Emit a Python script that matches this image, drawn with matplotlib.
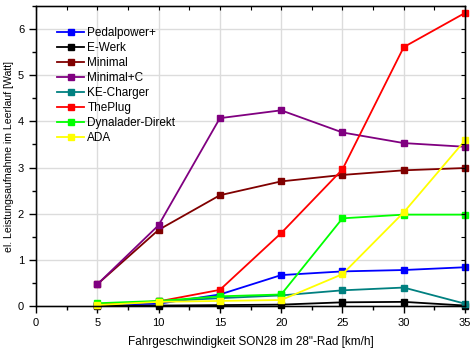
import numpy as np
import matplotlib
matplotlib.use('Agg')
import matplotlib.pyplot as plt
from matplotlib.ticker import MultipleLocator

plt.rcParams['font.family'] = ['Liberation Sans', 'DejaVu Sans']

speed = [5, 10, 15, 20, 25, 30, 35]

pedalpower = [0.03, 0.05, 0.25, 0.67, 0.75, 0.78, 0.84]
ewerk = [0.0, 0.01, 0.02, 0.03, 0.08, 0.09, 0.01]
minimal = [0.47, 1.65, 2.40, 2.70, 2.84, 2.94, 2.99]
minimal_c = [0.47, 1.75, 4.07, 4.24, 3.76, 3.53, 3.45]
ke_charger = [0.03, 0.10, 0.17, 0.23, 0.34, 0.40, 0.05]
theplug = [0.03, 0.10, 0.35, 1.58, 2.96, 5.61, 6.35]
dynalader = [0.06, 0.11, 0.21, 0.25, 1.90, 1.98, 1.98]
ada = [0.02, 0.09, 0.11, 0.13, 0.69, 2.03, 3.59]

names = ['Pedalpower+', 'E-Werk', 'Minimal', 'Minimal+C', 'KE-Charger',
         'ThePlug', 'Dynalader-Direkt', 'ADA']
series = [pedalpower, ewerk, minimal, minimal_c, ke_charger, theplug, dynalader, ada]
colors = ['#0000ff', '#000000', '#800000', '#800080', '#008080',
          '#ff0000', '#00ff00', '#ffff00']

fig = plt.figure(figsize=(4.76, 3.53), dpi=100)
ax = fig.add_axes([0.0756, 0.1331, 0.9014, 0.8499])

for name, ys, c in zip(names, series, colors):
    ax.plot(speed, ys, color=c, lw=1.3, marker='s', ms=5, label=name, clip_on=False)

ax.set_xlim(0, 35)
ax.set_ylim(0, 6.5)
ax.xaxis.set_major_locator(MultipleLocator(5))
ax.xaxis.set_minor_locator(MultipleLocator(2.5))
ax.yaxis.set_major_locator(MultipleLocator(1))
ax.yaxis.set_minor_locator(MultipleLocator(0.5))
ax.grid(True, which='major', color='#dcdcdc', lw=1)
ax.set_axisbelow(True)

ax.tick_params(which='both', direction='out', labelsize=8, width=1)
ax.tick_params(which='major', length=5)
ax.tick_params(which='minor', length=3)
for sp in ax.spines.values():
    sp.set_linewidth(1)

# inward mirror ticks on top and right
ax2 = ax.twinx()
ax2.set_ylim(ax.get_ylim())
ax2.yaxis.set_major_locator(MultipleLocator(0.5))
ax2.tick_params(direction='in', length=3, labelright=False)
ax3 = ax.twiny()
ax3.set_xlim(ax.get_xlim())
ax3.xaxis.set_major_locator(MultipleLocator(2.5))
ax3.tick_params(direction='in', length=3, labeltop=False)

ax.set_xlabel('Fahrgeschwindigkeit SON28 im 28"-Rad [km/h]', fontsize=8.5, labelpad=6)
ax.set_ylabel('el. Leistungsaufnahme im Leerlauf [Watt]', fontsize=7.6, labelpad=3)

ax.legend(loc='upper left', frameon=False, fontsize=8.5, handlelength=2.3,
          handletextpad=0.25, labelspacing=0.25, bbox_to_anchor=(0.025, 0.965))

fig.savefig('out.png', dpi=100)
